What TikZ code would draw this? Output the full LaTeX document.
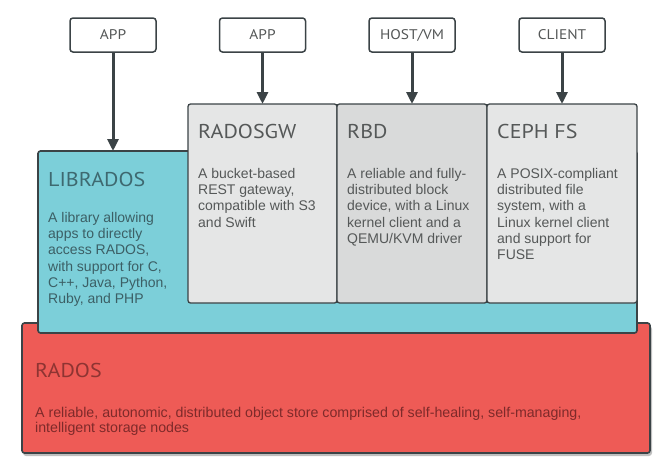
\documentclass[tikz,border=0pt]{standalone}
\usepackage{fontspec}
\setmainfont{Liberation Sans}
\newfontfamily\titlefont[FakeStretch=1.1]{PT Sans}
\usetikzlibrary{arrows.meta}
\definecolor{tealfill}{HTML}{7CCFD9}
\definecolor{redfill}{HTML}{EE5B56}
\definecolor{grayfill}{HTML}{E5E6E6}
\definecolor{rbdfill}{HTML}{D9DADA}
\definecolor{bordercol}{HTML}{3B4346}
\definecolor{tealtitle}{HTML}{3E6970}
\definecolor{tealbody}{HTML}{3C5F65}
\definecolor{graytext}{HTML}{555858}
\definecolor{redtitle}{HTML}{8E3432}
\definecolor{redbody}{HTML}{7E2A2A}
\tikzset{
  clientbox/.style={draw=bordercol, line width=1.5pt, fill=white, rounded corners=3pt,
    minimum width=86pt, minimum height=34pt, inner sep=0pt, outer sep=0pt,
    font=\titlefont\fontsize{14}{16}\selectfont, text=graytext},
  layerbox/.style={draw=bordercol, line width=1.6pt, rounded corners=2.5pt,
    inner sep=0pt, outer sep=0pt, anchor=north west},
  boxtitle/.style={anchor=base west, inner sep=0pt, font=\titlefont\fontsize{20}{24}\selectfont},
  boxbody/.style={anchor=north west, inner sep=0pt, align=left,
    font=\fontsize{14}{16.3}\selectfont},
  arr/.style={draw=bordercol, line width=3pt, -{Triangle[length=12pt,width=11pt]}},
}
\begin{document}
\begin{tikzpicture}[x=1pt,y=-1pt]
\useasboundingbox (0,0) rectangle (670,469);
% RADOS shadow and box
\fill[black, opacity=0.25, rounded corners=3pt] (23,326) rectangle (652,456);
\node[layerbox, fill=redfill, minimum width=628pt, minimum height=130pt] (rados) at (22,323) {};
% LIBRADOS
\node[layerbox, fill=tealfill, minimum width=599pt, minimum height=182pt] (librados) at (38,151) {};
% Gray boxes
\node[layerbox, fill=grayfill, line width=1.3pt, minimum width=149pt, minimum height=199pt] (radosgw) at (188,104) {};
\node[layerbox, fill=rbdfill, line width=1.3pt, minimum width=150pt, minimum height=199pt] (rbd) at (337,104) {};
\node[layerbox, fill=grayfill, line width=1.3pt, minimum width=150pt, minimum height=199pt] (cephfs) at (487,104) {};
% Client boxes
\node[clientbox] (app1) at (113,35) {APP};
\node[clientbox] (app2) at (262.5,35) {APP};
\node[clientbox] (host) at (412,35) {HOST/VM};
\node[clientbox] (client) at (562,35) {CLIENT};
% Arrows
\draw[arr] (app1.south) -- (app1.south |- librados.north);
\draw[arr] (app2.south) -- (app2.south |- radosgw.north);
\draw[arr] (host.south) -- (host.south |- rbd.north);
\draw[arr] (client.south) -- (client.south |- cephfs.north);
% Texts
\node[boxtitle, text=tealtitle] (libt) at (48,186) {LIBRADOS};
\node[boxbody, text=tealbody] (libb) at (48,210.6) {\strut A library allowing\\apps to directly\\access RADOS,\\with support for C,\\C++, Java, Python,\\Ruby, and PHP};
\node[boxtitle, text=graytext] (gwt) at (198,138) {RADOSGW};
\node[boxbody, text=graytext] (gwb) at (198,166.6) {\strut A bucket-based\\REST gateway,\\compatible with S3\\and Swift};
\node[boxtitle, text=graytext] (rbdt) at (347,138) {RBD};
\node[boxbody, text=graytext] (rbdb) at (347,166.6) {\strut A reliable and fully-\\distributed block\\device, with a Linux\\kernel client and a\\QEMU/KVM driver};
\node[boxtitle, text=graytext] (fst) at (497,138) {CEPH FS};
\node[boxbody, text=graytext] (fsb) at (497,166.6) {\strut A POSIX-compliant\\distributed file\\system, with a\\Linux kernel client\\and support for\\FUSE};
\node[boxtitle, text=redtitle] (radt) at (35,377) {RADOS};
\node[boxbody, text=redbody, font=\fontsize{14.2}{15}\selectfont] (radb) at (35,406.5) {\strut A reliable, autonomic, distributed object store comprised of self-healing, self-managing,\\intelligent storage nodes};
\end{tikzpicture}
\end{document}
